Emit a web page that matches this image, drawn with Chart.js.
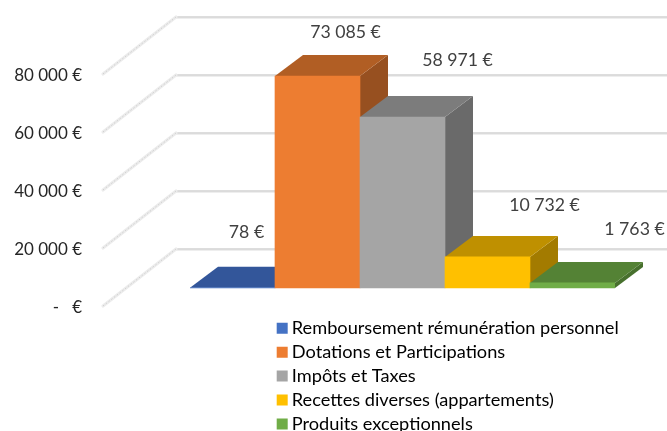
<!DOCTYPE html>
<html><head><meta charset="utf-8">
<style>html,body{margin:0;padding:0;background:#fff}canvas{display:block}</style>
<script src="https://cdn.jsdelivr.net/npm/chart.js@4"></script>
</head><body><canvas id="c" width="667" height="431"></canvas>
<script>
const categories = ["Remboursement rémunération personnel","Dotations et Participations","Impôts et Taxes","Recettes diverses (appartements)","Produits exceptionnels"];
const values = [78,73085,58971,10732,1763];
const valueLabels = ["78 €","73 085 €","58 971 €","10 732 €","1 763 €"];
const tickValues = [0,20000,40000,60000,80000];
const tickLabels = ["-\u00a0\u00a0\u00a0€","20 000 €","40 000 €","60 000 €","80 000 €"];
const frontColors = ["#4472C4","#ED7D31","#A5A5A5","#FFC000","#70AD47"];
const topColors = ["#33569A","#B15E24","#7C7C7C","#BF9000","#548235"];
const sideColors = ["#2C4A85","#975020","#6A6A6A","#A37B00","#47702D"];
const labelOffsets = [[14,-55],[28,-44],[55,-57],[57,-52],[62,-54]];
const FONT = "Lato";

const bar3d = {
  id:"bar3d",
  beforeDatasetsDraw(chart){
    const {ctx,scales:{y},chartArea:a} = chart;
    // walls
    ctx.save();
    tickValues.forEach(v=>{
      const p = y.getPixelForValue(v);
      const bx = a.left-14, by = p-39, fx = a.left-87, fy = p+18;
      ctx.strokeStyle="#eeeeee"; ctx.lineWidth=1.5;
      ctx.beginPath(); ctx.moveTo(bx,by+1.2); ctx.lineTo(chart.width,by+1.2); ctx.stroke();
      ctx.strokeStyle="#d2d2d2"; ctx.lineWidth=1.5;
      ctx.beginPath(); ctx.moveTo(bx,by); ctx.lineTo(chart.width,by); ctx.stroke();
      ctx.strokeStyle="#ececec"; ctx.lineWidth=3.2; ctx.lineCap="round";
      ctx.beginPath(); ctx.moveTo(fx,fy); ctx.lineTo(bx,by); ctx.stroke();
      ctx.lineCap="butt";
      ctx.strokeStyle="#d0d0d0"; ctx.lineWidth=1; ctx.setLineDash([1.5,2]);
      ctx.beginPath(); ctx.moveTo(fx,fy); ctx.lineTo(bx,by); ctx.stroke();
      ctx.setLineDash([]);
    });
    // sides and tops, left to right
    const dx=28, dy=-21;
    chart.getDatasetMeta(0).data.forEach((b,i)=>{
      const l=b.x-b.width/2, r=b.x+b.width/2, t=b.y, bt=b.base;
      ctx.fillStyle=sideColors[i];
      ctx.beginPath(); ctx.moveTo(r,t); ctx.lineTo(r+dx,t+dy); ctx.lineTo(r+dx,bt+dy); ctx.lineTo(r,bt); ctx.closePath(); ctx.fill();
      ctx.fillStyle=topColors[i];
      ctx.beginPath(); ctx.moveTo(l,t); ctx.lineTo(l+dx,t+dy); ctx.lineTo(r+dx,t+dy); ctx.lineTo(r,t); ctx.closePath(); ctx.fill();
    });
    ctx.restore();
  },
  afterDatasetsDraw(chart){
    const {ctx} = chart;
    ctx.save();
    ctx.font = "17.7px "+FONT; ctx.fillStyle="#404040"; ctx.textAlign="center"; ctx.textBaseline="middle";
    chart.getDatasetMeta(0).data.forEach((b,i)=>{
      ctx.fillText(valueLabels[i], b.x+labelOffsets[i][0], b.y+labelOffsets[i][1]);
    });
    ctx.restore();
  },
  afterLayout(chart){
    const lg = chart.legend;
    lg.left=276; lg.right=667; lg.top=313.5; lg.bottom=470; lg.width=391; lg.height=156.5;
  }
};

new Chart(document.getElementById("c"),{
  type:"bar",
  data:{labels:categories,datasets:[{data:values,backgroundColor:frontColors,borderWidth:0,barPercentage:1,categoryPercentage:1,yAxisID:"y"}]},
  plugins:[bar3d],
  options:{
    responsive:false,animation:false,
    layout:{padding:{left:0,right:52,top:10,bottom:121}},
    plugins:{
      tooltip:{enabled:false},
      legend:{
        position:"chartArea",align:"start",fullSize:false,
        labels:{
          font:{family:FONT,size:18.2},color:"#262626",usePointStyle:true,pointStyle:"rect",
          boxWidth:1,boxHeight:11,padding:5.7,
          generateLabels:()=>categories.map((c,i)=>({text:c,fillStyle:frontColors[i],strokeStyle:frontColors[i],lineWidth:0,pointStyle:"rect",index:i,datasetIndex:0}))
        }
      }
    },
    scales:{
      x:{display:false},
      y:{display:false,min:-7586,max:95862,beginAtZero:false},
      yLabels:{
        position:"left",min:-862,max:102586,
        grid:{display:false,drawTicks:false},border:{display:false},
        afterBuildTicks(ax){ax.ticks=tickValues.map(v=>({value:v}));},
        afterFit(ax){ax.width=190;ax.paddingTop=0;ax.paddingBottom=0;},
        ticks:{padding:108,autoSkip:false,color:"#262626",font:{family:FONT,size:17},callback:(v,i)=>tickLabels[i]}
      }
    }
  }
});
</script></body></html>
